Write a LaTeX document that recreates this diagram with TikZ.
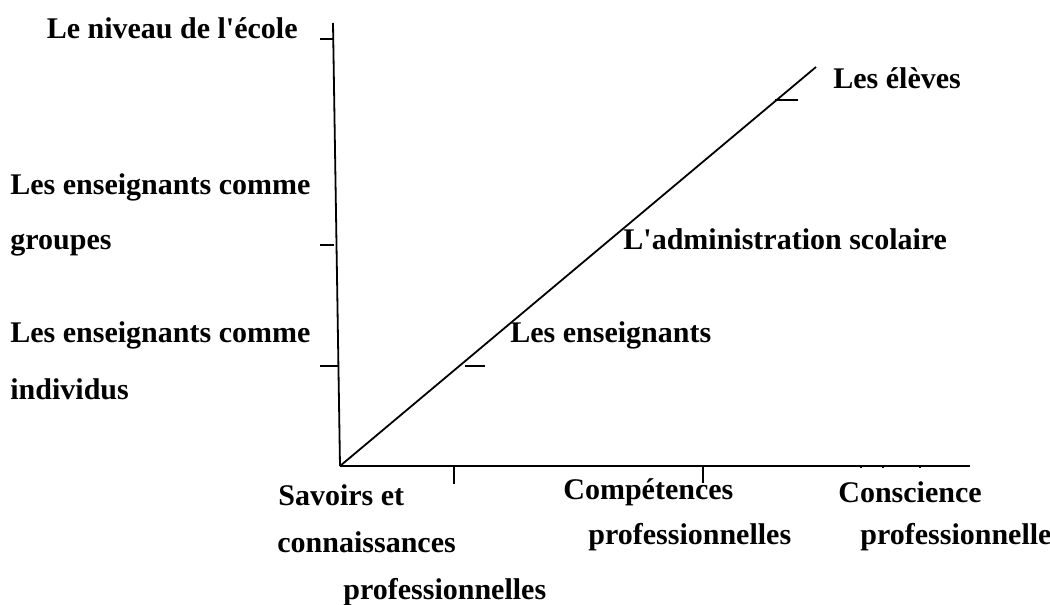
\documentclass[tikz,border=0pt]{standalone}
\usepackage{fontspec}
\setmainfont{Liberation Serif}
\usetikzlibrary{positioning}
\tikzset{lbl/.style={anchor=west, inner sep=0pt, font=\fontsize{15}{18}\selectfont\bfseries}}
\tikzset{axis/.style={line width=0.9pt}}
\tikzset{tick/.style={line width=0.9pt}}

\begin{document}
\begin{tikzpicture}[x=0.5pt, y=-0.5pt]
    \useasboundingbox (0,0) rectangle (1050,605);
    % axes
    \coordinate (O) at (340,466);
    \coordinate (top) at (333,23);
    \coordinate (right) at (970,466);
    \coordinate (diag) at (816,67);
    \draw[axis] (O) -- (top);
    \draw[axis] (O) -- (right);
    \draw[axis] (O) -- (diag);
    % ticks, vertical axis
    \draw[tick] (320,39) -- (333,39);
    \draw[tick] (320,245) -- (334,245);
    \draw[tick] (320,366) -- (338,366);
    % ticks, horizontal axis
    \draw[tick] (454,466) -- (454,484);
    \draw[tick] (703,466) -- (703,483);
    \draw[tick] (861,466) -- (861,468);
    \draw[tick] (883,466) -- (883,468);
    \draw[tick] (920,466) -- (920,468);
    % ticks, diagonal
    \draw[tick] (465,366) -- (485,366);
    \draw[tick] (775,100) -- (798,100);
    % vertical axis labels
    \node[lbl, anchor=east] (ecole) at (298,28) {Le niveau de l\textquotesingle école};
    \node[lbl] (grp1) at (10,187) {Les enseignants comme};
    \node[lbl] (grp2) at (10,245) {groupes};
    \node[lbl] (ind1) at (10,335) {Les enseignants comme};
    \node[lbl] (ind2) at (10,389) {individus};
    % diagonal labels
    \node[lbl] (eleves) at (833,78) {Les élèves};
    \node[lbl] (admin) at (623,239) {L\textquotesingle administration scolaire};
    \node[lbl] (ens) at (510,335) {Les enseignants};
    % horizontal axis labels
    \node[lbl] (sav1) at (278,495) {Savoirs et};
    \node[lbl] (sav2) at (277,542) {connaissances};
    \node[lbl] (sav3) at (343,592) {professionnelles};
    \node[lbl] (comp1) at (563,492) {Compétences};
    \node[lbl] (comp2) at (588,537) {professionnelles};
    \node[lbl] (consc1) at (838,492) {Conscience};
    \node[lbl] (consc2) at (860,537) {professionnelle};
\end{tikzpicture}
\end{document}
